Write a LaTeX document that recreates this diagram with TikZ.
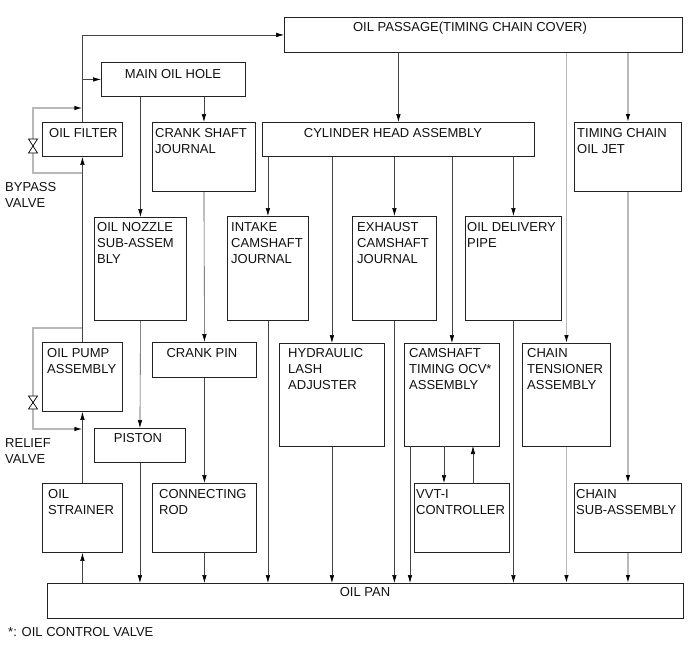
\documentclass[tikz,border=0pt]{standalone}
\usepackage{fontspec}
\setmainfont{Liberation Sans}
\usetikzlibrary{arrows.meta,calc}
\definecolor{boxc}{HTML}{222222}
\definecolor{linec}{HTML}{444444}
\definecolor{lgray}{HTML}{B8B8B8}
\definecolor{txt}{HTML}{111111}
\newcommand\mybox[5]{\node[box,anchor=north west,minimum width={(#4-#2)*1pt},minimum height={(#5-#3)*1pt}] (#1) at (#2,#3) {};}
\begin{document}
\begin{tikzpicture}[x=1pt,y=-1pt,
  box/.style={draw=boxc,line width=0.9pt,inner sep=0pt,fill=white},
  lbl/.style={inner sep=0pt,font=\fontsize{13}{16}\selectfont,align=left,text=txt},
  conn/.style={draw=linec,line width=0.6pt},
  arr/.style={conn,-{Latex[length=8pt,width=4.5pt,color=black]}},
  gconn/.style={draw=lgray,line width=1.2pt},
  garr/.style={gconn,-{Latex[length=8pt,width=4.5pt,color=black]}},
  valve/.style={draw=black,line width=0.7pt,fill=white}]
\useasboundingbox (0,0) rectangle (691,659);
% boxes
\mybox{passage}{284}{17}{682}{52}
\mybox{mainoil}{101}{62}{245}{96}
\mybox{filter}{42}{122}{122}{156}
\mybox{crankj}{152}{122}{255}{191}
\mybox{cylhead}{262}{122}{534}{156}
\mybox{tcjet}{574}{122}{681}{191}
\mybox{nozzle}{94}{217}{186}{320}
\mybox{intake}{227}{216}{308}{320}
\mybox{exhaust}{352}{216}{436}{320}
\mybox{delivery}{465}{216}{561}{320}
\mybox{crankpin}{152}{342}{256}{377}
\mybox{pump}{42}{342}{122}{411}
\mybox{hydraulic}{279}{343}{384}{446}
\mybox{ocv}{404}{343}{499}{446}
\mybox{tensioner}{522}{343}{610}{446}
\mybox{piston}{94}{428}{185}{462}
\mybox{strainer}{42}{483}{122}{552}
\mybox{conrod}{152}{483}{256}{552}
\mybox{vvt}{414}{483}{509}{552}
\mybox{chainsub}{574}{483}{681}{552}
\mybox{oilpan}{47}{583}{683}{618}
% labels (anchor = baseline of the last line)
\node[lbl,anchor=base] (passage-t) at (470,31.7) {OIL PASSAGE(TIMING CHAIN COVER)};
\node[lbl,anchor=base] (mainoil-t) at (173,78.7) {MAIN OIL HOLE};
\node[lbl,anchor=base west] (filter-t) at (49,137.7) {OIL FILTER};
\node[lbl,anchor=base west] (crankj-t) at (155,153.7) {CRANK SHAFT\\JOURNAL};
\node[lbl,anchor=base] (cylhead-t) at (393,137.7) {CYLINDER HEAD ASSEMBLY};
\node[lbl,anchor=base west] (tcjet-t) at (577,153.7) {TIMING CHAIN\\OIL JET};
\node[lbl,anchor=base west] (nozzle-t) at (97,263.7) {OIL NOZZLE\\SUB-ASSEM\\BLY};
\node[lbl,anchor=base west] (intake-t) at (231,263.7) {INTAKE\\CAMSHAFT\\JOURNAL};
\node[lbl,anchor=base west] (exhaust-t) at (357,263.7) {EXHAUST\\CAMSHAFT\\JOURNAL};
\node[lbl,anchor=base west] (delivery-t) at (467,247.7) {OIL DELIVERY\\PIPE};
\node[lbl,anchor=base] (crankpin-t) at (202,357.7) {CRANK PIN};
\node[lbl,anchor=base west] (pump-t) at (47,373.7) {OIL PUMP\\ASSEMBLY};
\node[lbl,anchor=base west] (hydraulic-t) at (288,389.7) {HYDRAULIC\\LASH\\ADJUSTER};
\node[lbl,anchor=base west] (ocv-t) at (409,389.7) {CAMSHAFT\\TIMING OCV*\\ASSEMBLY};
\node[lbl,anchor=base west] (tensioner-t) at (527,389.7) {CHAIN\\TENSIONER\\ASSEMBLY};
\node[lbl,anchor=base] (piston-t) at (138,442.7) {PISTON};
\node[lbl,anchor=base west] (strainer-t) at (48,514.7) {OIL\\STRAINER};
\node[lbl,anchor=base west] (conrod-t) at (159,514.7) {CONNECTING\\ROD};
\node[lbl,anchor=base west] (vvt-t) at (416,514.7) {VVT-I\\CONTROLLER};
\node[lbl,anchor=base west] (chainsub-t) at (576,514.7) {CHAIN\\SUB-ASSEMBLY};
\node[lbl,anchor=base] (oilpan-t) at (365,596.7) {OIL PAN};
\node[lbl,anchor=base west] (bypass-t) at (5,207.7) {BYPASS\\VALVE};
\node[lbl,anchor=base west] (relief-t) at (5,463.7) {RELIEF\\VALVE};
\node[lbl,anchor=base west] (note-t) at (8,636.5) {*: OIL CONTROL VALVE};
% main feed
\draw[arr] (filter.north) |- (passage.west);
\draw[arr] (filter.north |- mainoil.west) -- (mainoil.west);
\draw[arr] (pump.north) -- (filter.south);
\draw[arr] (strainer.north) -- (pump.south);
\draw[arr] (strainer.south |- oilpan.north) -- (strainer.south);
% bypass valve loop
\coordinate (bpTop) at (33,108);
\coordinate (bpBot) at (33,173);
\coordinate (bpV) at (33,146);
\draw[gconn] (filter.south |- bpBot) -- (bpBot) -- (bpV);
\draw[garr] (bpV) -- (bpTop) -- (filter.north |- bpTop);
\draw[valve] ($(bpV)+(-4.5,-7)$) -- ($(bpV)+(4.5,-7)$) -- ($(bpV)+(-4.5,7)$) -- ($(bpV)+(4.5,7)$) -- cycle;
% relief valve loop
\coordinate (rvTop) at (33,328);
\coordinate (rvBot) at (33,429);
\coordinate (rvV) at (33,402.5);
\draw[gconn] (pump.north |- rvTop) -- (rvTop) -- (rvV);
\draw[garr] (rvV) -- (rvBot) -- (pump.south |- rvBot);
\draw[valve] ($(rvV)+(-4.5,-6.5)$) -- ($(rvV)+(4.5,-6.5)$) -- ($(rvV)+(-4.5,6.5)$) -- ($(rvV)+(4.5,6.5)$) -- cycle;
% main oil hole
\draw[arr] (nozzle.north |- mainoil.south) -- (nozzle.north);
\draw[arr] (crankj.north |- mainoil.south) -- (crankj.north);
\draw[arr] (crankj.south) -- (crankpin.north);
\draw[arr] (crankpin.south) -- (conrod.north);
\draw[arr] (nozzle.south) -- (piston.north);
% oil passage
\draw[arr] (cylhead.north |- passage.south) -- (cylhead.north);
\draw[garr] (tensioner.north |- passage.south) -- (tensioner.north);
\draw[garr] (tcjet.north |- passage.south) -- (tcjet.north);
\draw[garr] (tcjet.south) -- (chainsub.north);
% cylinder head
\draw[arr] (intake.north |- cylhead.south) -- (intake.north);
\draw[arr] (hydraulic.north |- cylhead.south) -- (hydraulic.north);
\draw[arr] (exhaust.north |- cylhead.south) -- (exhaust.north);
\draw[arr] (ocv.north |- cylhead.south) -- (ocv.north);
\draw[arr] (delivery.north |- cylhead.south) -- (delivery.north);
% OCV and VVT-i
\coordinate (ocvL) at (410,446);
\coordinate (ocvD) at (444,446);
\coordinate (ocvU) at (473,446);
\draw[arr] (ocvD) -- (ocvD |- vvt.north);
\draw[arr] (ocvU |- vvt.north) -- (ocvU);
% to oil pan
\draw[arr] (piston.south) -- (piston.south |- oilpan.north);
\draw[arr] (conrod.south) -- (conrod.south |- oilpan.north);
\draw[arr] (intake.south) -- (intake.south |- oilpan.north);
\draw[arr] (hydraulic.south) -- (hydraulic.south |- oilpan.north);
\draw[arr] (exhaust.south) -- (exhaust.south |- oilpan.north);
\draw[arr] (ocvL) -- (ocvL |- oilpan.north);
\draw[arr] (delivery.south) -- (delivery.south |- oilpan.north);
\draw[garr] (tensioner.south) -- (tensioner.south |- oilpan.north);
\draw[garr] (chainsub.south) -- (chainsub.south |- oilpan.north);
\end{tikzpicture}
\end{document}
